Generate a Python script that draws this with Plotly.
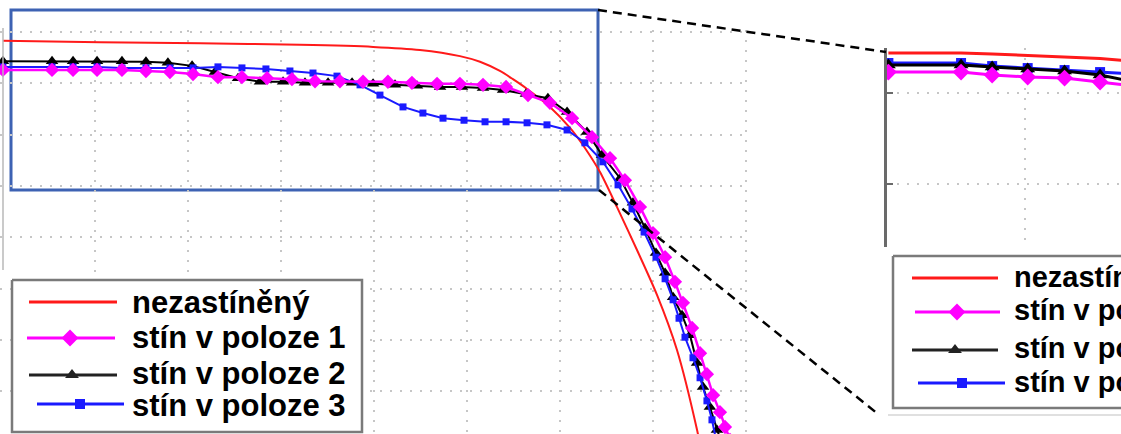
import plotly.graph_objects as go

# ---------------- data: I-V curves of the PV panel ----------------
series_names = ["nezastíněný", "stín v poloze 1", "stín v poloze 2", "stín v poloze 3"]

# unshaded panel
voltage_free = [0.05, 5.27, 10.65, 16.02, 19.95, 22.47, 24.62, 25.70, 26.77, 27.47,
                28.23, 29.46, 30.54, 31.34, 32.15, 33.06, 34.14, 35.22, 36.29, 37.37, 37.53]
current_free = [7.83, 7.80, 7.78, 7.75, 7.71, 7.65, 7.53, 7.42, 7.24, 7.08,
                6.89, 6.54, 6.13, 5.74, 5.27, 4.59, 3.75, 2.87, 1.80, 0.24, -0.05]

# shade in position 1
voltage_pos1 = [0.05, 2.69, 3.82, 5.11, 6.45, 7.74, 9.03, 10.27, 11.61, 12.90,
                14.25, 15.59, 16.83, 18.17, 19.41, 20.75, 22.04, 23.39, 24.62, 25.86,
                27.10, 28.28, 29.46, 30.65, 31.72, 32.69, 33.49, 34.30, 35.00, 35.65,
                36.18, 36.61, 37.10, 37.53, 37.90, 38.23, 38.60, 38.87, 39.14]
current_pos1 = [7.26, 7.26, 7.26, 7.26, 7.26, 7.24, 7.22, 7.18, 7.12, 7.12,
                7.10, 7.08, 7.04, 7.04, 7.03, 7.03, 7.01, 6.99, 6.99, 6.97,
                6.93, 6.77, 6.62, 6.32, 5.95, 5.54, 5.11, 4.59, 4.08, 3.61,
                3.13, 2.72, 2.23, 1.74, 1.33, 0.92, 0.59, 0.30, 0.05]

# shade in position 2
voltage_pos2 = [0.05, 2.69, 3.82, 5.11, 6.45, 7.74, 8.92, 10.22, 11.45, 12.69,
                13.87, 15.11, 16.29, 17.53, 18.82, 19.95, 21.13, 22.31, 23.55, 24.73,
                25.86, 26.94, 28.17, 29.35, 30.38, 31.45, 32.26, 33.23, 33.92, 34.57,
                35.16, 35.65, 36.08, 36.56, 36.99, 37.37, 37.69, 38.06, 38.44, 38.66]
current_pos2 = [7.43, 7.43, 7.43, 7.43, 7.43, 7.42, 7.40, 7.34, 7.22, 7.10,
                7.03, 7.03, 7.01, 7.01, 7.01, 6.99, 6.97, 6.95, 6.93, 6.93,
                6.91, 6.87, 6.79, 6.71, 6.44, 6.05, 5.60, 5.15, 4.67, 4.18,
                3.69, 3.30, 2.83, 2.48, 2.09, 1.55, 1.08, 0.69, 0.24, 0.01]

# shade in position 3
voltage_pos3 = [0.05, 2.69, 3.82, 5.11, 6.45, 7.74, 9.03, 10.27, 11.61, 12.90,
                14.19, 15.48, 16.72, 18.01, 19.25, 20.32, 21.56, 22.63, 23.71, 24.84,
                25.97, 27.10, 28.23, 29.30, 30.38, 31.34, 32.31, 33.12, 33.87, 34.52,
                35.16, 35.65, 36.08, 36.40, 36.72, 37.15, 37.53, 37.90, 38.17, 38.39]
current_pos3 = [7.32, 7.32, 7.32, 7.32, 7.30, 7.30, 7.30, 7.30, 7.32, 7.30,
                7.28, 7.24, 7.20, 7.14, 6.97, 6.77, 6.54, 6.42, 6.32, 6.28,
                6.25, 6.25, 6.23, 6.19, 6.09, 5.84, 5.47, 5.02, 4.55, 4.10,
                3.61, 3.19, 2.78, 2.42, 2.05, 1.65, 1.26, 0.81, 0.44, 0.05]

# detail view of the short-circuit region
detail_voltage = [0.05, 2.69, 3.82, 5.11, 6.45, 7.74, 9.03]
detail_free = [7.220, 7.220, 7.214, 7.206, 7.198, 7.190, 7.173]
detail_pos1 = [7.115, 7.115, 7.099, 7.088, 7.082, 7.060, 7.038]
detail_pos2 = [7.154, 7.154, 7.143, 7.132, 7.121, 7.099, 7.060]
detail_pos3 = [7.165, 7.165, 7.148, 7.137, 7.126, 7.115, 7.104]

main_xticks = [5, 10, 15, 20, 25, 30, 35, 40]
main_yticks = [1, 2, 3, 4, 5, 6, 7, 8]
detail_xticks = [5]
detail_yticks = [6.5, 7.0]

# ---------------- styling ----------------
W, H = 1121, 434
RED, MAGENTA, BLACK, BLUE = "#ff1a1a", "#ff00ff", "#000000", "#1a1aff"
GRID = dict(showgrid=True, gridcolor="#c6c6c6", gridwidth=1.5, griddash="2px,8px",
            zeroline=False, showticklabels=False, ticks="")
FONT = dict(family="Liberation Sans, Arial, sans-serif", color="black", weight="bold")


def fx(p):
    return p / W


def fy(p):
    return 1 - p / H


fig = go.Figure()

# main chart
fig.add_trace(go.Scatter(x=voltage_free, y=current_free, mode="lines",
                         line=dict(color=RED, width=2, shape="spline", smoothing=0.8),
                         xaxis="x", yaxis="y", showlegend=False))
fig.add_trace(go.Scatter(x=voltage_pos2, y=current_pos2, mode="lines+markers",
                         line=dict(color=BLACK, width=2),
                         marker=dict(symbol="triangle-up", size=11, color=BLACK),
                         xaxis="x", yaxis="y", showlegend=False))
fig.add_trace(go.Scatter(x=voltage_pos3, y=current_pos3, mode="lines+markers",
                         line=dict(color=BLUE, width=2),
                         marker=dict(symbol="square", size=7, color=BLUE),
                         xaxis="x", yaxis="y", showlegend=False))
fig.add_trace(go.Scatter(x=voltage_pos1, y=current_pos1, mode="lines+markers",
                         line=dict(color=MAGENTA, width=2.5),
                         marker=dict(symbol="diamond", size=11, color=MAGENTA),
                         xaxis="x", yaxis="y", showlegend=False))

# detail chart
fig.add_trace(go.Scatter(x=detail_voltage, y=detail_free, mode="lines",
                         line=dict(color=RED, width=3),
                         xaxis="x2", yaxis="y2", showlegend=False))
fig.add_trace(go.Scatter(x=detail_voltage, y=detail_pos3, mode="lines+markers",
                         line=dict(color=BLUE, width=3),
                         marker=dict(symbol="square", size=10, color=BLUE),
                         xaxis="x2", yaxis="y2", showlegend=False))
fig.add_trace(go.Scatter(x=detail_voltage, y=detail_pos2, mode="lines+markers",
                         line=dict(color=BLACK, width=3),
                         marker=dict(symbol="triangle-up", size=13, color=BLACK),
                         xaxis="x2", yaxis="y2", showlegend=False))
fig.add_trace(go.Scatter(x=detail_voltage, y=detail_pos1, mode="lines+markers",
                         line=dict(color=MAGENTA, width=3),
                         marker=dict(symbol="diamond", size=13, color=MAGENTA),
                         xaxis="x2", yaxis="y2", showlegend=False))

# legend boxes drawn on a full-page overlay axis (pixel units)
styles = [
    dict(color=RED, symbol=None, msize=0),
    dict(color=MAGENTA, symbol="diamond", msize=13),
    dict(color="#222222", symbol="triangle-up", msize=12),
    dict(color=BLUE, symbol="square", msize=10),
]
legends = [
    dict(box=(12, 280, 362, 432), rows=[302, 338, 375, 404],
         lines=[(29, 117), (27, 115), (29, 117), (37, 124)], marks=[None, 70, 72, 80],
         text_x=131, text_y=[302, 337, 373, 405], size=31),
    dict(box=(893, 256, 1135, 408), rows=[278, 312, 350, 383],
         lines=[(912, 998), (915, 1000), (912, 998), (918, 1005)], marks=[None, 957, 955, 962],
         text_x=1013, text_y=[277, 310, 348, 382], size=29),
]
for lg in legends:
    x0, y0, x1, y1 = lg["box"]
    fig.add_trace(go.Scatter(x=[x0, x1, x1, x0, x0], y=[y0, y0, y1, y1, y0],
                             mode="lines", fill="toself", fillcolor="white",
                             line=dict(color="#7a7a7a", width=2.5),
                             xaxis="x3", yaxis="y3", showlegend=False, hoverinfo="skip"))
    for i, st in enumerate(styles):
        a, b = lg["lines"][i]
        yy = lg["rows"][i]
        fig.add_trace(go.Scatter(x=[a, b], y=[yy, yy], mode="lines",
                                 line=dict(color=st["color"], width=3),
                                 xaxis="x3", yaxis="y3", showlegend=False, hoverinfo="skip"))
        if st["symbol"]:
            fig.add_trace(go.Scatter(x=[lg["marks"][i]], y=[yy], mode="markers",
                                     marker=dict(symbol=st["symbol"], size=st["msize"],
                                                 color=st["color"]),
                                     xaxis="x3", yaxis="y3", showlegend=False, hoverinfo="skip"))
        fig.add_annotation(x=fx(lg["text_x"]), y=fy(lg["text_y"][i]), xref="paper", yref="paper",
                           text=series_names[i], showarrow=False, xanchor="left",
                           yanchor="middle", borderpad=0,
                           font=dict(size=lg["size"], **FONT))

# zoom frame and connecting lines
shapes = [
    dict(type="rect", xref="paper", yref="paper", x0=fx(11), x1=fx(598), y0=fy(10), y1=fy(190),
         line=dict(color="#3d62b3", width=3), layer="below"),
    dict(type="line", xref="paper", yref="paper", x0=fx(598), y0=fy(10), x1=fx(886), y1=fy(52),
         line=dict(color="black", width=2.5, dash="9px,6px")),
    dict(type="line", xref="paper", yref="paper", x0=fx(599), y0=fy(190), x1=fx(878), y1=fy(414),
         line=dict(color="black", width=2.5, dash="9px,6px")),
    dict(type="line", xref="paper", yref="paper", x0=fx(3), y0=fy(28), x1=fx(3), y1=fy(270),
         line=dict(color="#b8b8b8", width=1.5)),
    dict(type="line", xref="paper", yref="paper", x0=fx(888), y0=fy(415), x1=fx(1121), y1=fy(415),
         line=dict(color="#d6d6d6", width=1.5)),
]

fig.update_layout(
    width=W, height=H, autosize=False,
    margin=dict(l=0, r=0, t=0, b=0, pad=0),
    paper_bgcolor="white", plot_bgcolor="rgba(0,0,0,0)",
    showlegend=False,
    shapes=shapes,
    xaxis=dict(domain=[0, 748 / W], range=[-0.1075, 40.1075], tickvals=main_xticks,
               showline=False, **GRID),
    yaxis=dict(domain=[0, 1 - 30 / H], range=[0.1637, 8.039], tickvals=main_yticks,
               showline=False, **GRID),
    xaxis2=dict(domain=[887 / W, 1], range=[0, 8.5], tickvals=detail_xticks, anchor="y2",
                showline=False, **GRID),
    yaxis2=dict(domain=[(H - 247) / H, (H - 48) / H], range=[6.1538, 7.2473],
                tickvals=detail_yticks, anchor="x2",
                showgrid=True, gridcolor="#c6c6c6", gridwidth=1.5, griddash="2px,8px",
                zeroline=False, showticklabels=False,
                showline=True, linecolor="#6a6a6a", linewidth=2.5,
                ticks="inside", ticklen=6, tickcolor="#6a6a6a", tickwidth=1.5),
    xaxis3=dict(domain=[0, 1], range=[0, W], visible=False, fixedrange=True, anchor="y3"),
    yaxis3=dict(domain=[0, 1], range=[H, 0], visible=False, fixedrange=True, anchor="x3"),
)

fig.write_html("out.html")
